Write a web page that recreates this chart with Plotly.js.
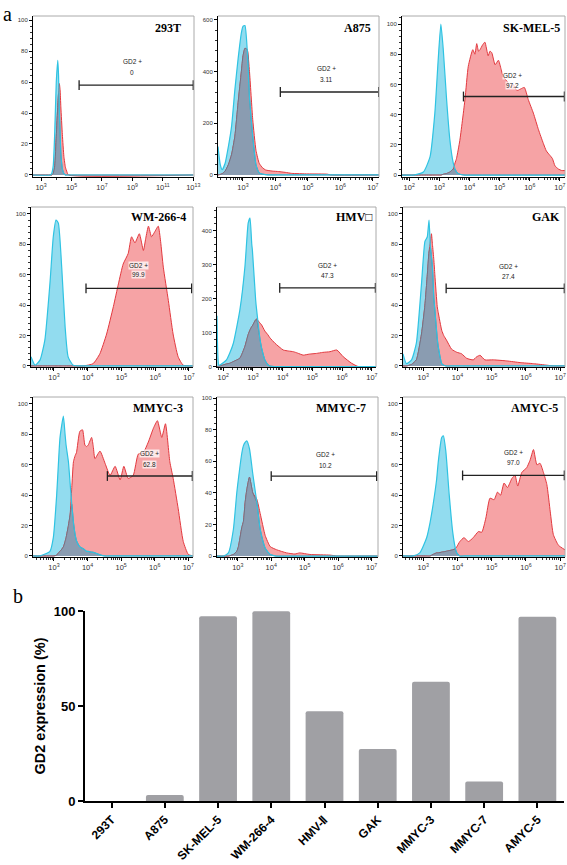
<!DOCTYPE html>
<html><head><meta charset="utf-8">
<script src="https://cdn.plot.ly/plotly-3.0.1.min.js"></script>
<style>html,body{margin:0;padding:0;background:#fff}#chart{width:567px;height:865px}</style>
</head><body><div id="chart"></div>
<script>
// ---------- DATA ----------
const cellLines   = ['293T','A875','SK-MEL-5','WM-266-4','HMV-Ⅱ','GAK','MMYC-3','MMYC-7','AMYC-5'];
const panelTitles = ['293T','A875','SK-MEL-5','WM-266-4','HMV□','GAK','MMYC-3','MMYC-7','AMYC-5'];
const gd2Percent  = [0, 3.11, 97.2, 99.9, 47.3, 27.4, 62.8, 10.2, 97.0];
const gd2Labels   = ['0','3.11','97.2','99.9','47.3','27.4','62.8','10.2','97.0'];
// gate limits (log10 fluorescence) and gate height (count)
const gateLogLo = [5.5, 4.15, 3.8, 3.95, 3.9, 3.67, 4.59, 4.0, 4.15];
const gateLogHi = [13.0, 7.18, 7.15, 7.08, 7.12, 7.12, 7.12, 7.15, 7.12];
const gateCount = [58, 321, 52, 51, 232, 51, 52.6, 50.6, 53];

// histograms: log10 intensity, control (cyan), GD2 stained (red)
const h293T_x    = [2.47,3.6,3.7,3.8,3.9,4.0,4.1,4.15,4.2,4.25,4.3,4.4,4.5,4.6,4.7,4.8,13];
const h293T_ctrl = [0,0,1,6,28,60,74,64,42,28,14,4,1,0,0,0,0];
const h293T_gd2  = [0,0,0,1,6,25,45,53,59,55,44,26,12,5,2,0,0];

const hA875_x    = [2.23,2.3,2.36,2.45,2.55,2.65,2.75,2.85,2.95,3.0,3.06,3.13,3.2,3.3,3.4,3.5,3.6,3.7,3.9,4.1,4.3,4.5,5.0,5.6,5.7,7.2];
const hA875_ctrl = [110,40,20,45,110,190,330,450,550,575,578,485,300,150,40,8,3,1,0,0,0,0,0,0,0,0];
const hA875_gd2  = [0,2,5,15,40,80,150,280,400,460,490,485,400,215,95,45,28,19,15,13,10,6,4,3,0,0];

const hSKMEL5_x    = [1.76,2.13,2.47,2.69,2.85,2.96,3.05,3.13,3.24,3.35,3.46,3.52,3.57,3.68,3.85,3.96,4.11,4.18,4.24,4.3,4.35,4.43,4.51,4.62,4.68,4.74,4.85,4.96,5.05,5.12,5.25,5.35,5.45,5.57,5.7,5.82,5.95,6.12,6.29,6.45,6.55,6.67,6.75,6.84,6.95,7.06,7.17];
const hSKMEL5_ctrl = [0,0,2,12,41,76,100,83,50,23,8,4,2,0.5,0,0,0,0,0,0,0,0,0,0,0,0,0,0,0,0,0,0,0,0,0,0,0,0,0,0,0,0,0,0,0,0,0];
const hSKMEL5_gd2  = [0,0,0,0,0,0,0,0.5,1,2,4,8,11,23,50,72,83,80,87,82,83,86,88,79,82,81,73,76,70,65,62,58,60,56,57,58,50,41,30,21,16,13,11,6,4,3,3];

const hWM2664_x    = [2.32,2.44,2.59,2.73,2.88,2.98,3.06,3.13,3.23,3.33,3.42,3.57,3.87,4.16,4.36,4.56,4.76,4.91,5.05,5.2,5.3,5.4,5.53,5.65,5.72,5.8,5.89,5.98,6.09,6.16,6.24,6.39,6.53,6.68,6.83,7.12];
const hWM2664_ctrl = [6,0.5,4,17,54,85,96,94,65,26,6,0.5,0,0,0,0,0,0,0,0,0,0,0,0,0,0,0,0,0,0,0,0,0,0,0,0];
const hWM2664_gd2  = [0,0,0,0,0,0,0,0,0,0,0,0,0,1.5,8,21,39,54,67,74,85,81,87,76,84,92,85,88,92,82,65,43,21,6,0.5,0];

const hHMV2_x    = [1.79,1.85,1.89,2.11,2.22,2.34,2.56,2.73,2.79,2.84,2.9,2.96,2.98,3.09,3.12,3.24,3.29,3.4,3.51,3.57,3.74,4.02,4.2,4.36,4.5,4.69,4.9,5.14,5.35,5.59,5.82,6.04,6.32,6.55,7.14];
const hHMV2_ctrl = [150,5,5,20,40,69,167,295,370,423,437,360,344,197,170,79,55,20,5,2,0,0,0,0,0,0,0,0,0,0,0,0,0,0,0];
const hHMV2_gd2  = [0,1,2,8,10,15,25,60,79,95,108,118,120,138,140,128,123,105,93,85,69,49,46,44,40,34,37,39,42,44,49,29,10,0,0];

const hGAK_x    = [2.41,2.51,2.66,2.8,2.95,3.05,3.1,3.12,3.17,3.21,3.24,3.27,3.31,3.34,3.41,3.44,3.54,3.6,3.68,3.83,3.98,4.12,4.27,4.46,4.56,4.66,4.8,5.05,5.44,5.83,6.22,6.61,6.8,7.14];
const hGAK_ctrl = [8,1.5,4,15,54,82,84,85,96,78,72,65,45,37,18,12.5,1.5,0.5,0,0,0,0,0,0,0,0,0,0,0,0,0,0,0,0];
const hGAK_gd2  = [0,0,1,4,21,40,54,60,75,82,87,80,70,60,39,35,23.5,20,17,11,9,8,5,4,6,7,4,4,3.3,2.2,1.5,0.5,0,0];

const hMMYC3_x    = [2.38,2.58,2.88,2.98,3.08,3.13,3.18,3.28,3.33,3.36,3.43,3.48,3.53,3.58,3.63,3.67,3.77,3.85,3.92,3.97,4.02,4.12,4.17,4.22,4.37,4.52,4.67,4.82,4.97,5.08,5.21,5.36,5.51,5.66,5.81,5.96,6.08,6.21,6.32,6.45,6.55,6.7,6.85,7.0,7.14];
const hMMYC3_ctrl = [0,0,3,12,40,60,78,92,80,73,62,48,34,22,14,10,6,5,4,3,3,2.5,2.4,2,0.7,0,0,0,0,0,0,0,0,0,0,0,0,0,0,0,0,0,0,0,0];
const hMMYC3_gd2  = [0,0,0,0,0.5,2,3,6,9.5,12,20,27,45,62,66,68,82,83,73,72,73,78,72,64,69,61,53,59,50,59,51,53,67,68,75,84,89,78,87,62,51,31,9.5,1,0];

const hMMYC7_x    = [2.38,2.57,2.72,2.87,2.97,3.02,3.12,3.17,3.22,3.27,3.35,3.45,3.57,3.67,3.82,3.97,4.16,4.46,4.71,4.85,5.16,5.76,5.96,7.18];
const hMMYC7_ctrl = [0,0,2,17,40,49,65,70,72,73,68,52,34,17,5,1,0,0,0,0,0,0,0,0];
const hMMYC7_gd2  = [0,0,0,1,3,6,18,22,34,42,50,40,36,27,13,6,4,2,1.3,2,1,0.6,0,0];

const hAMYC5_x    = [2.41,2.71,2.9,3.1,3.2,3.29,3.39,3.44,3.54,3.59,3.66,3.76,3.86,3.93,3.98,4.07,4.19,4.32,4.46,4.61,4.71,4.83,4.95,5.07,5.17,5.26,5.36,5.46,5.59,5.68,5.76,5.88,6.02,6.12,6.22,6.32,6.41,6.51,6.61,6.71,6.8,6.95,7.14];
const hAMYC5_ctrl = [0,0,2,12,22,34,50,62,78,79,69,40,16,6,2,0,0,0,0,0,0,0,0,0,0,0,0,0,0,0,0,0,0,0,0,0,0,0,0,0,0,0,0];
const hAMYC5_gd2  = [0,0,0,0,0,1,2,2,2.5,2.7,3,3.5,4,4.6,6,9.5,12,9.5,12,16,15.6,25,38,37,42,40,48,45,51,53,46,55,58,63,70,60,61,55,47,29,14,7,4];

const histX    = [h293T_x, hA875_x, hSKMEL5_x, hWM2664_x, hHMV2_x, hGAK_x, hMMYC3_x, hMMYC7_x, hAMYC5_x];
const histCtrl = [h293T_ctrl, hA875_ctrl, hSKMEL5_ctrl, hWM2664_ctrl, hHMV2_ctrl, hGAK_ctrl, hMMYC3_ctrl, hMMYC7_ctrl, hAMYC5_ctrl];
const histGD2  = [h293T_gd2, hA875_gd2, hSKMEL5_gd2, hWM2664_gd2, hHMV2_gd2, hGAK_gd2, hMMYC3_gd2, hMMYC7_gd2, hAMYC5_gd2];

// ---------- LAYOUT CONFIG ----------
const W = 567, H = 865;
const boxes = [[33,194,16,177],[218,379,16,177],[402,565,16,177],
               [31,193,207,367],[217,376,207,367],[403,565,207,367],
               [33,193,397,557],[217,378,397,557],[403,565,397,557]];
const xRanges = [[2.47,13.05],[2.23,7.19],[1.76,7.17],[2.32,7.12],[1.79,7.14],[2.41,7.14],[2.375,7.14],[2.38,7.19],[2.41,7.14]];
const yRanges = [[-1.3,102.6],[-8,615],[-1.3,105.3],[-0.7,104.6],[-1,470],[-0.7,104.6],[-0.7,104.6],[-0.6,100.8],[-0.7,104.6]];
const yDt  = [20,200,20,20,100,20,20,20,20];
const yMin = [4,40,4,4,20,4,4,4,4];
const titleRight = [183,373,562,188,375,562,185,368,560];
const titleMidY  = [28,28,28,217,217,217,408,408,408];
const labX  = [9.0,5.58,5.43,5.5,5.5,5.49,5.84,5.61,5.63];
const labY1 = [73,410,66,66.4,297,65.7,67.3,64.4,68.4];
const labY2 = [66,368,59,60,268,59,60.4,57.5,61.5];

const CYAN_LINE='#2fc3e2', CYAN_FILL='#92dcef', RED_LINE='#e3393f', RED_FILL='#f6a3a5', OV_FILL='#8a9cb1', OV_LINE='#6c7283';

const traces = [];
const layout = {
  width: W, height: H, margin:{l:0,r:0,t:0,b:0}, showlegend:false,
  paper_bgcolor:'#fff', plot_bgcolor:'rgba(0,0,0,0)',
  font:{family:'Liberation Sans, Arial, sans-serif', color:'#333'},
  annotations:[], shapes:[]
};

for (let i=0;i<9;i++){
  const n = i+1;
  const xa = 'x'+n, ya = 'y'+n;
  const xs = histX[i].map(v=>Math.pow(10,v));
  const ov = histCtrl[i].map((v,k)=>Math.min(v, histGD2[i][k]));
  const common = {x:xs, xaxis:xa, yaxis:ya, type:'scatter', mode:'lines', hoverinfo:'skip'};
  traces.push(Object.assign({}, common, {y:histCtrl[i], fill:'tozeroy', fillcolor:CYAN_FILL, line:{width:0, color:CYAN_LINE, shape:'spline', smoothing:0.5}}));
  traces.push(Object.assign({}, common, {y:histGD2[i], fill:'tozeroy', fillcolor:RED_FILL, line:{width:1, color:RED_LINE, shape:'spline', smoothing:0.5}}));
  traces.push(Object.assign({}, common, {y:ov, fill:'tozeroy', fillcolor:OV_FILL, line:{width:0.9, color:OV_LINE, shape:'spline', smoothing:0.5}}));
  traces.push(Object.assign({}, common, {y:histCtrl[i], line:{width:1.2, color:CYAN_LINE, shape:'spline', smoothing:0.5}}));
  // gate
  traces.push({x:[Math.pow(10,gateLogLo[i]), Math.pow(10,gateLogHi[i])], y:[gateCount[i], gateCount[i]],
    xaxis:xa, yaxis:ya, type:'scatter', mode:'lines+markers', hoverinfo:'skip',
    line:{color:'#222', width:1.3}, marker:{symbol:'line-ns', size:7, line:{width:1.3, color:'#222'}}});

  const b = boxes[i];
  const ax = {
    type:'log', range:xRanges[i], domain:[b[0]/W, b[1]/W], anchor:ya,
    showline:true, linecolor:'#000', linewidth:1, ticks:'outside', ticklen:3, tickwidth:1, tickcolor:'#000',
    showgrid:false, zeroline:false, dtick: i===0?2:1, tick0: i===0?1:0, exponentformat:'power',
    tickfont:{size:6, color:'#333'}, fixedrange:true,
    minor:{ticks:'outside', ticklen:1.6, tickcolor:'#000', tickwidth:0.8, showgrid:false}
  };
  const ay = {
    range:yRanges[i], domain:[1-b[3]/H, 1-b[2]/H], anchor:xa,
    showline:true, linecolor:'#000', linewidth:1, ticks:'outside', ticklen:3, tickwidth:1, tickcolor:'#000',
    showgrid:false, zeroline:false, dtick:yDt[i], tick0:0, tickfont:{size:6, color:'#333'}, fixedrange:true,
    minor:{ticks:'outside', ticklen:1.6, tickcolor:'#000', tickwidth:0.8, dtick:yMin[i], showgrid:false}
  };
  layout['xaxis'+n] = ax; layout['yaxis'+n] = ay;

  // gray frame top/right
  layout.shapes.push({type:'line', xref:'paper', yref:'paper', x0:b[0]/W, x1:b[1]/W, y0:1-b[2]/H, y1:1-b[2]/H, line:{color:'#aaaaaa', width:1}});
  layout.shapes.push({type:'line', xref:'paper', yref:'paper', x0:b[1]/W, x1:b[1]/W, y0:1-b[2]/H, y1:1-b[3]/H, line:{color:'#aaaaaa', width:1}});

  layout.annotations.push({text:'<b>'+panelTitles[i]+'</b>', xref:'paper', yref:'paper', x:titleRight[i]/W, y:1-titleMidY[i]/H,
    xanchor:'right', yanchor:'middle', showarrow:false, font:{family:'Liberation Serif, Times New Roman, serif', size:12, color:'#000'}});
  layout.annotations.push({text:'GD2 +', xref:xa, yref:ya, x:labX[i], y:labY1[i], showarrow:false,
    font:{size:6.5, color:'#222'}, bgcolor:'rgba(255,255,255,0.75)', borderpad:0});
  layout.annotations.push({text:gd2Labels[i], xref:xa, yref:ya, x:labX[i], y:labY2[i], showarrow:false,
    font:{size:6.5, color:'#222'}, bgcolor:'rgba(255,255,255,0.75)', borderpad:0});
}

// ---------- BAR CHART ----------
traces.push({type:'bar', x:cellLines, y:gd2Percent, xaxis:'x10', yaxis:'y10', width:0.71,
  marker:{color:'#a0a0a4', cornerradius:2, line:{width:0}}, hoverinfo:'skip'});
layout.xaxis10 = {domain:[85/W, 564/W], anchor:'y10', range:[-0.5,8.5], type:'category',
  showline:true, linecolor:'#000', linewidth:2, ticks:'outside', ticklen:5, tickwidth:2, tickcolor:'#000',
  tickangle:-45, tickfont:{size:12, color:'#000', weight:'bold', family:'Liberation Sans, Arial, sans-serif'},
  showgrid:false, zeroline:false, fixedrange:true};
layout.yaxis10 = {domain:[1-801/H, 1-611/H], anchor:'x10', range:[0,100],
  showline:true, linecolor:'#000', linewidth:2, ticks:'outside', ticklen:5, tickwidth:2, tickcolor:'#000',
  tickvals:[0,50,100], tickfont:{size:13, color:'#000', weight:'bold', family:'Liberation Sans, Arial, sans-serif'},
  showgrid:false, zeroline:false, fixedrange:true,
  title:{text:'GD2 expression (%)', font:{size:14.5, color:'#000', weight:'bold', family:'Liberation Sans, Arial, sans-serif'}}};

layout.annotations.push({text:'a', xref:'paper', yref:'paper', x:7/W, y:1-1/H, xanchor:'center', yanchor:'top', showarrow:false,
  font:{family:'Liberation Serif, Times New Roman, serif', size:20, color:'#000'}});
layout.annotations.push({text:'b', xref:'paper', yref:'paper', x:18/W, y:1-596/H, xanchor:'center', yanchor:'middle', showarrow:false,
  font:{family:'Liberation Serif, Times New Roman, serif', size:20, color:'#000'}});

Plotly.newPlot('chart', traces, layout, {staticPlot:true, displayModeBar:false});
</script></body></html>
